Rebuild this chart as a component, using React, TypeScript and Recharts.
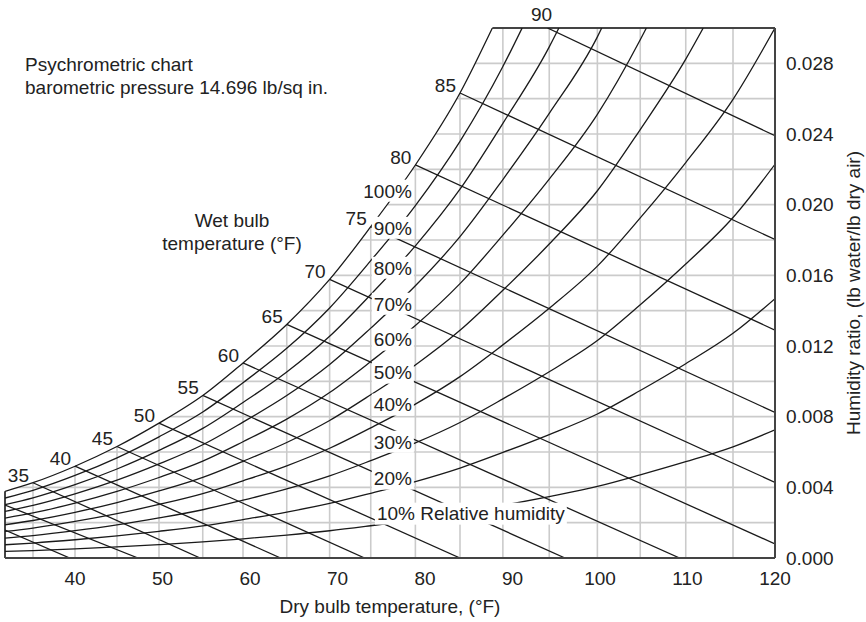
import React from 'react';
import {
  ComposedChart,
  Line,
  Area,
  XAxis,
  YAxis,
  CartesianGrid,
  ReferenceLine,
  ReferenceDot,
} from 'recharts';

// Dry-bulb temperatures (°F) of the printed vertical grid lines, read against the axis labels
const dryBulbF = [32, 35.2, 40, 44.8, 49.6, 54.6, 59.2, 64.2, 69.1, 73.8, 78.9, 84.0, 88.9, 94.2, 99.7, 104.6, 109.8, 115.2, 120];
const gridDryBulbF = dryBulbF.slice(1, dryBulbF.length - 1);
const xTicks = [40, 50, 60, 70, 80, 90, 100, 110, 120];
const yTicks = [0, 0.004, 0.008, 0.012, 0.016, 0.02, 0.024, 0.028];
const gridHumidity = [0.002, 0.004, 0.006, 0.008, 0.01, 0.012, 0.014, 0.016, 0.018, 0.02, 0.022, 0.024, 0.026, 0.028];
const chartTop = 0.03;

// Relative humidity curves: humidity ratio at each dry-bulb grid line
const rh10 = [0.000375, 0.000423, 0.000516, 0.000625, 0.000755, 0.000908, 0.001087, 0.001297, 0.001542, 0.001826, 0.002155, 0.002535, 0.002973, 0.003475, 0.004049, 0.004704, 0.005449, 0.006294, 0.007256];
const rh20 = [0.000751, 0.000847, 0.001032, 0.001252, 0.001512, 0.001818, 0.002178, 0.002599, 0.003091, 0.003663, 0.004325, 0.005091, 0.005974, 0.006989, 0.008151, 0.00948, 0.010995, 0.012716, 0.014682];
const rh30 = [0.001128, 0.001272, 0.00155, 0.001879, 0.00227, 0.002731, 0.003273, 0.003907, 0.004648, 0.00551, 0.006511, 0.007669, 0.009004, 0.010542, 0.012308, 0.014329, 0.016639, 0.019271, 0.022286];
const rh40 = [0.001504, 0.001697, 0.002068, 0.002508, 0.00303, 0.003646, 0.004371, 0.00522, 0.006213, 0.007369, 0.008711, 0.010267, 0.012064, 0.014136, 0.01652, 0.019253, 0.022385, 0.025963, 0.03];
const rh50 = [0.001882, 0.002123, 0.002587, 0.003138, 0.003793, 0.004565, 0.005474, 0.006539, 0.007785, 0.009238, 0.010927, 0.012887, 0.015154, 0.017771, 0.020787, 0.024254, 0.028236];
const rh60 = [0.002259, 0.002549, 0.003107, 0.00377, 0.004557, 0.005486, 0.00658, 0.007864, 0.009366, 0.011119, 0.013159, 0.015529, 0.018273, 0.021448, 0.025113, 0.029334];
const rh70 = [0.002638, 0.002976, 0.003628, 0.004403, 0.005323, 0.006409, 0.00769, 0.009194, 0.010954, 0.013011, 0.015407, 0.018192, 0.021424, 0.025167, 0.029497];
const rh80 = [0.003016, 0.003404, 0.004149, 0.005037, 0.00609, 0.007336, 0.008804, 0.010529, 0.012551, 0.014914, 0.01767, 0.020878, 0.024606, 0.02893];
const rh90 = [0.003395, 0.003832, 0.004672, 0.005672, 0.00686, 0.008265, 0.009922, 0.01187, 0.014155, 0.016829, 0.01995, 0.023587, 0.027819];
const rh100 = [0.003775, 0.004261, 0.005195, 0.006309, 0.007632, 0.009197, 0.011044, 0.013217, 0.015768, 0.018755, 0.022246, 0.026319];
const rhCurves = [rh10, rh20, rh30, rh40, rh50, rh60, rh70, rh80, rh90, rh100];
// dry bulb where each curve leaves the chart through its top edge (null: it does not)
const rhTopDryBulb = [null, null, null, null, 111.8, 105.3, 100.2, 95.3, 91.1, 87.7];

// Relative humidity labels
const rhLabelText = ['100%', '90%', '80%', '70%', '60%', '50%', '40%', '30%', '20%', '10% Relative humidity'];
const rhLabelW = [0.02079, 0.01869, 0.01643, 0.01439, 0.01236, 0.01049, 0.00868, 0.00658, 0.00449, 0.00251];
const rhLabelDryBulb = [78.5, 78.5, 78.5, 78.5, 78.5, 78.5, 78.5, 78.5, 78.5, 74.5];

// Wet bulb lines (°F): start and end points
const wetBulbNames = ['', '', '35', '40', '45', '50', '55', '60', '65', '70', '75', '80', '85', '90'];
const wbStartT = [32, 32, 35.2, 40, 44.8, 49.6, 54.6, 59.2, 64.2, 69.1, 73.8, 78.9, 84.0, 94.0];
const wbStartW = [0.00158, 0.003, 0.00426, 0.0052, 0.00631, 0.00763, 0.0092, 0.01104, 0.01322, 0.01577, 0.01876, 0.02225, 0.02632, 0.03];
const wbEndT = [39.4, 47.2, 54.3, 63.5, 73.1, 84.0, 96.0, 109.1, 120, 120, 120, 120, 120, 120];
const wbEndW = [0, 0, 0, 0, 0, 0, 0, 0, 0.0008, 0.00428, 0.00824, 0.0129, 0.01803, 0.0239];

const FONT = '"Liberation Sans", Arial, Helvetica, sans-serif';
const FS = 19;
const INK = '#1a1a1a';
const TEXT = '#222';

const rhSeries = rhCurves.map((vals, k) => {
  const pts = vals.map((w, i) => ({ t: dryBulbF[i], w }));
  const top = rhTopDryBulb[k];
  if (top !== null) pts.push({ t: top, w: chartTop });
  return pts;
});
const saturation = rhSeries[rhSeries.length - 1].map((p) => ({ t: p.t, w: p.w, band: [p.w, chartTop] }));
const wbSeries = wbStartT.map((t, i) => [
  { t, w: wbStartW[i] },
  { t: wbEndT[i], w: wbEndW[i] },
]);
const satTopT = rhTopDryBulb[rhTopDryBulb.length - 1] as number;

const charW: Record<string, number> = {
  '0': 0.556, '1': 0.556, '2': 0.556, '3': 0.556, '4': 0.556, '5': 0.556, '6': 0.556, '7': 0.556, '8': 0.556, '9': 0.556,
  '%': 0.889, ' ': 0.278, R: 0.722, e: 0.556, l: 0.222, a: 0.556, t: 0.278, i: 0.222, v: 0.5, h: 0.556, u: 0.556, m: 0.833, d: 0.556, y: 0.5,
};
function textWidth(s: string) {
  let w = 0;
  for (const c of s) w += charW[c] ?? 0.556;
  return w * FS;
}

function BoxedText(props: { cx: number; cy: number; text: string; anchor: 'start' | 'end' }) {
  const { cx, cy, text, anchor } = props;
  const w = textWidth(text);
  const x0 = anchor === 'end' ? cx - w : cx;
  return (
    <g>
      <rect x={x0 - 2} y={cy - 11} width={w + 4} height={22} fill="#fff" />
      <text x={cx} y={cy + 6.8} textAnchor={anchor} fontSize={FS} fill={TEXT} fontFamily={FONT}>
        {text}
      </text>
    </g>
  );
}

export default function App() {
  return (
    <div style={{ position: 'absolute', left: 0, top: 0, width: 866, height: 622, background: '#fff', fontFamily: FONT }}>
      <ComposedChart width={866} height={622} margin={{ top: 28, right: 0, bottom: 0, left: 5 }}>
        <CartesianGrid
          stroke="#cbcbcb"
          strokeWidth={1.6}
          verticalValues={gridDryBulbF}
          horizontalValues={gridHumidity}
        />
        <XAxis
          dataKey="t"
          type="number"
          domain={[32, 120]}
          ticks={xTicks}
          allowDataOverflow
          height={64}
          tickLine={false}
          tickSize={6}
          tickMargin={8}
          axisLine={{ stroke: '#444', strokeWidth: 2 }}
          tick={{ fontSize: FS, fill: TEXT }}
        />
        <YAxis
          orientation="right"
          type="number"
          domain={[0, chartTop]}
          ticks={yTicks}
          allowDataOverflow
          width={91}
          tickLine={false}
          tickSize={6}
          tickMargin={5}
          axisLine={{ stroke: '#444', strokeWidth: 2 }}
          tick={{ fontSize: FS, fill: TEXT }}
          tickFormatter={(v: number) => v.toFixed(3)}
        />
        <Area
          data={saturation}
          dataKey="band"
          type="monotone"
          stroke="none"
          fill="#ffffff"
          fillOpacity={1}
          isAnimationActive={false}
          activeDot={false}
        />
        <ReferenceLine
          segment={[{ x: satTopT, y: chartTop }, { x: 120, y: chartTop }]}
          stroke="#444"
          strokeWidth={2}
        />
        <ReferenceLine
          segment={[{ x: 32, y: 0 }, { x: 32, y: rh100[0] }]}
          stroke="#444"
          strokeWidth={2}
        />
        {rhSeries.map((pts, k) => (
          <Line
            key={'rh' + k}
            data={pts}
            dataKey="w"
            type="monotone"
            stroke={INK}
            strokeWidth={1.3}
            dot={false}
            activeDot={false}
            isAnimationActive={false}
          />
        ))}
        {wbSeries.map((pts, k) => (
          <Line
            key={'wb' + k}
            data={pts}
            dataKey="w"
            type="linear"
            stroke={INK}
            strokeWidth={1.3}
            dot={false}
            activeDot={false}
            isAnimationActive={false}
          />
        ))}
        {rhLabelText.map((txt, k) => (
          <ReferenceDot
            key={'rhl' + k}
            x={rhLabelDryBulb[k]}
            y={rhLabelW[k]}
            r={1}
            shape={(p: any) => (
              <BoxedText cx={p.cx} cy={p.cy} text={txt} anchor={k === rhLabelText.length - 1 ? 'start' : 'end'} />
            )}
          />
        ))}
        {wetBulbNames.map((name, k) =>
          name ? (
            <ReferenceDot
              key={'wbl' + k}
              x={wbStartT[k]}
              y={wbStartW[k]}
              r={1}
              shape={(p: any) =>
                name === '90' ? (
                  <text x={p.cx - 6} y={p.cy - 14 + 6.8} textAnchor="middle" fontSize={FS} fill={TEXT} fontFamily={FONT}>
                    {name}
                  </text>
                ) : (
                  <text x={p.cx - 4} y={p.cy - 8 + 6.8} textAnchor="end" fontSize={FS} fill={TEXT} fontFamily={FONT}>
                    {name}
                  </text>
                )
              }
            />
          ) : null
        )}
      </ComposedChart>
      <div style={{ position: 'absolute', left: 25, top: 54, fontSize: FS, lineHeight: '22.5px', color: TEXT, whiteSpace: 'nowrap' }}>
        Psychrometric chart
        <br />
        barometric pressure 14.696 lb/sq in.
      </div>
      <div style={{ position: 'absolute', left: 132, width: 200, top: 209, fontSize: FS, lineHeight: '23px', color: TEXT, textAlign: 'center', whiteSpace: 'nowrap' }}>
        Wet bulb
        <br />
        temperature (°F)
      </div>
      <div style={{ position: 'absolute', left: 190, width: 400, top: 596, fontSize: FS, lineHeight: '22.5px', color: TEXT, textAlign: 'center', whiteSpace: 'nowrap' }}>
        Dry bulb temperature, (°F)
      </div>
      <div
        style={{
          position: 'absolute',
          left: 853,
          top: 293,
          fontSize: FS,
          lineHeight: '19px',
          color: TEXT,
          whiteSpace: 'nowrap',
          transform: 'translate(-50%, -50%) rotate(-90deg)',
        }}
      >
        Humidity ratio, (lb water/lb dry air)
      </div>
    </div>
  );
}
